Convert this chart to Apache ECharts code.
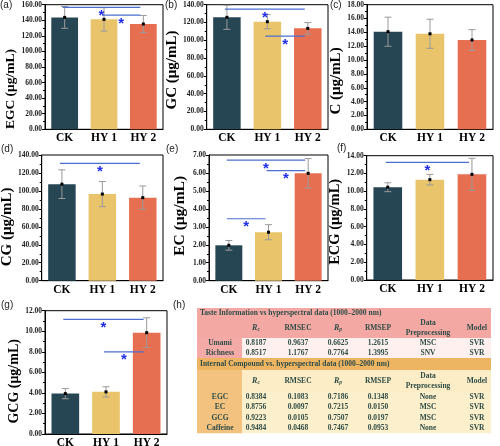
<!DOCTYPE html>
<html><head><meta charset="utf-8">
<script src="https://cdn.jsdelivr.net/npm/echarts@6/dist/echarts.min.js"></script>
<style>html,body{margin:0;padding:0;background:#fff}#c{width:500px;height:446px}</style>
</head><body><div id="c"></div>
<script>
// ---------- data ----------
const categories = ['CK', 'HY 1', 'HY 2'];
const barColors = ['#264653', '#E9C46A', '#E76F51'];

const egcMean = [143.7, 141.2, 135.2];  const egcErr = [14, 15, 11];
const gcMean  = [125.8, 120.9, 113.4];  const gcErr  = [13.5, 8, 6.5];
const cMean   = [14.1, 13.8, 12.9];     const cErr   = [2.1, 2.1, 1.5];
const cgMean  = [107.5, 96.5, 92.5];    const cgErr  = [16, 14, 13];
const ecMean  = [1.97, 2.70, 5.98];     const ecErr  = [0.27, 0.42, 0.82];
const ecgMean = [10.45, 11.30, 11.90];  const ecgErr = [0.5, 0.6, 1.8];
const gcgMean = [3.93, 4.10, 9.86];     const gcgErr = [0.5, 0.5, 1.45];

// significance brackets: [fromCategory, toCategory, yValue]
const egcSig = [[0, 2, 156.6], [1, 2, 146.5]];
const gcSig  = [[0, 2, 135.0], [1, 2, 104.8]];
const cSig   = [];
const cgSig  = [[0, 2, 130.7]];
const ecSig  = [[0, 2, 6.72], [1, 2, 6.13], [0, 1, 3.45]];
const ecgSig = [[0, 2, 13.25]];
const gcgSig = [[0, 2, 11.16], [1, 2, 8.0]];

// table
const tasteTitle = 'Taste Information vs hyperspectral data (1000–2000 nm)';
const compTitle  = 'Internal Compound vs. hyperspectral data (1000–2000 nm)';
const tableHeaders = ['{i|R}{s|c}', 'RMSEC', '{i|R}{s|p}', 'RMSEP', 'Data\nPreprocessing', 'Model'];
const tasteRows = [
  ['Umami',    '0.8187', '0.9637', '0.6625', '1.2615', 'MSC', 'SVR'],
  ['Richness', '0.8517', '1.1767', '0.7764', '1.3995', 'SNV', 'SVR']
];
const compRows = [
  ['EGC',      '0.8384', '0.1083', '0.7186', '0.1348', 'None', 'SVR'],
  ['EC',       '0.8756', '0.0097', '0.7215', '0.0150', 'MSC',  'SVR'],
  ['GCG',      '0.9223', '0.0105', '0.7507', '0.0197', 'MSC',  'SVR'],
  ['Caffeine', '0.9484', '0.0468', '0.7467', '0.0953', 'None', 'SVR']
];

// ---------- layout ----------
const SERIF = '"Liberation Serif","Times New Roman",serif';
const SANS = '"Liberation Sans",Arial,sans-serif';
const panels = [
  {name:'EGC (μg/mL)', mean:egcMean, err:egcErr, sig:egcSig, max:160, step:20, g:[45, 4.7, 118, 124.6], gap:23, fs:13.5, off:22, tag:'(a)', tp:[0, 5]},
  {name:'GC (μg/mL)',  mean:gcMean,  err:gcErr,  sig:gcSig,  max:140, step:20, g:[206.7, 4.7, 121.3, 124.6], gap:19, fs:15, off:3, tag:'(b)', tp:[165, 5]},
  {name:'C (μg/mL)',   mean:cMean,   err:cErr,   sig:cSig,   max:18,  step:2,  g:[367, 4.7, 126, 124.6], gap:16.5, fs:15, off:14, tag:'(c)', tp:[330, 5]},
  {name:'CG (μg/mL)',  mean:cgMean,  err:cgErr,  sig:cgSig,  max:140, step:20, g:[41.7, 155, 121.3, 125.7], gap:19, fs:15, off:9, tag:'(d)', tp:[1, 149]},
  {name:'EC (μg/mL)',  mean:ecMean,  err:ecErr,  sig:ecSig,  max:7,   step:1,  g:[209, 155, 119, 125.7], gap:21, fs:15.5, off:-2, tag:'(e)', tp:[166, 149]},
  {name:'ECG (μg/mL)', mean:ecgMean, err:ecgErr, sig:ecgSig, max:14,  step:2,  g:[366.7, 155.7, 126.3, 124.3], gap:17.5, fs:14.5, off:4, tag:'(f)', tp:[337, 148]},
  {name:'GCG (μg/mL)', mean:gcgMean, err:gcgErr, sig:gcgSig, max:12,  step:2,  g:[45, 310.7, 122, 123.3], gap:22, fs:14, off:9, tag:'(g)', tp:[1, 305]}
];

function errRender(params, api) {
  const x = api.value(0), m = api.value(1), e = api.value(2);
  const t = api.coord([x, m + e]), b = api.coord([x, m - e]), c = api.coord([x, m]);
  const cap = 3.5, st = {stroke:'#9a9a9a', lineWidth:1};
  return {type:'group', children:[
    {type:'line', shape:{x1:t[0], y1:t[1], x2:b[0], y2:b[1]}, style:st},
    {type:'line', shape:{x1:t[0]-cap, y1:t[1], x2:t[0]+cap, y2:t[1]}, style:st},
    {type:'line', shape:{x1:b[0]-cap, y1:b[1], x2:b[0]+cap, y2:b[1]}, style:st},
    {type:'rect', shape:{x:c[0]-1.5, y:c[1]-1.5, width:3, height:3}, style:{fill:'#000'}}
  ]};
}
function sigRender(params, api) {
  const a = api.coord([api.value(0), api.value(2)]);
  const b = api.coord([api.value(1), api.value(2)]);
  const x1 = a[0] - 2, x2 = b[0] - 3, y = a[1];
  return {type:'group', children:[
    {type:'line', shape:{x1:x1, y1:y, x2:x2, y2:y}, style:{stroke:'#4a6fd0', lineWidth:1.2}},
    {type:'text', style:{text:'*', x:(x1+x2)/2, y:y+1, align:'center', verticalAlign:'top',
      fontSize:15, fontWeight:'bold', fill:'#1f2ee6', fontFamily:SANS}}
  ]};
}

const option = {animation:false, grid:[], xAxis:[], yAxis:[], series:[], graphic:[]};
panels.forEach((p, i) => {
  option.grid.push({left:p.g[0], top:p.g[1], width:p.g[2], height:p.g[3], show:true,
    borderColor:'#000', borderWidth:1, backgroundColor:'transparent', containLabel:false, outerBoundsMode:'none'});
  option.xAxis.push({type:'category', gridIndex:i, data:categories,
    axisTick:{show:false}, axisLine:{lineStyle:{color:'#000', width:1}},
    axisLabel:{color:'#000', fontSize:11.5, fontWeight:'bold', fontFamily:SERIF, margin:3}});
  const pad = p.off >= 0 ? [0, 2 * p.off, 0, 0] : [0, 0, 0, -2 * p.off];
  option.yAxis.push({type:'value', gridIndex:i, min:0, max:p.max, interval:p.step,
    name:p.name, nameLocation:'middle', nameGap:p.gap,
    nameTextStyle:{color:'#000', fontSize:p.fs, fontWeight:'bold', fontFamily:SERIF, padding:pad},
    axisLine:{show:true, lineStyle:{color:'#000', width:1}},
    axisTick:{show:true, length:3, lineStyle:{color:'#000'}},
    minorTick:{show:true, splitNumber:2, length:2, lineStyle:{color:'#000'}},
    splitLine:{show:false},
    axisLabel:{formatter:v => v.toFixed(2), fontSize:7.5, fontWeight:'bold', fontFamily:SERIF, color:'#222', margin:3}});
  option.series.push({type:'bar', xAxisIndex:i, yAxisIndex:i, data:p.mean, barWidth:'68%',
    itemStyle:{color:q => barColors[q.dataIndex]}});
  option.series.push({type:'custom', xAxisIndex:i, yAxisIndex:i, renderItem:errRender, clip:false, z:3,
    data:p.mean.map((m, k) => [k, m, p.err[k]])});
  if (p.sig.length) option.series.push({type:'custom', xAxisIndex:i, yAxisIndex:i, renderItem:sigRender, clip:false, z:4,
    encode:{x:0, y:2}, data:p.sig});
  option.graphic.push({type:'text', left:p.tp[0], top:p.tp[1] - 5, style:{text:p.tag, fontSize:10, fontFamily:SANS, fill:'#222'}});
});

// ---------- table (h) ----------
const TX = 197, TW = 294, LC = 45;
const colX = [220, 256, 298, 338, 378, 428, 477];
const txtCol = '#2f4d47';
const cellFont = {fontSize:7.5, fontWeight:'bold', fontFamily:SERIF, fill:txtCol};
const rich = {i:{fontStyle:'italic', fontWeight:'bold', fontSize:8, fontFamily:SERIF, fill:txtCol},
              s:{fontStyle:'italic', fontWeight:'bold', fontSize:5.5, fontFamily:SERIF, fill:txtCol, padding:[4,0,0,0]}};
const G = option.graphic;
G.push({type:'text', left:173, top:300, style:{text:'(h)', fontSize:10, fontFamily:SANS, fill:'#222'}});
function rect(x, y, w, h, c) { G.push({type:'rect', shape:{x:x, y:y, width:w, height:h}, style:{fill:c}, z:0}); }
function txt(x, y, s, align, extra) {
  G.push({type:'text', x:x, y:y, z:2, style:Object.assign({text:s, align:align || 'center', verticalAlign:'middle', rich:rich, lineHeight:10}, cellFont, extra || {})});
}
function table(top, titleH, headH, rowH, title, rows, cTitle, cHeadLabel, cHead, cLabel, cCell) {
  rect(TX, top, TW, titleH, cTitle);
  rect(TX, top + titleH, LC, headH, cHeadLabel);
  rect(TX + LC, top + titleH, TW - LC, headH, cHead);
  rect(TX, top + titleH + headH, LC, rowH * rows.length, cLabel);
  rect(TX + LC, top + titleH + headH, TW - LC, rowH * rows.length, cCell);
  txt(TX + 3, top + titleH / 2, title, 'left');
  tableHeaders.forEach((h, k) => txt(colX[k + 1], top + titleH + headH / 2, h));
  rows.forEach((r, j) => r.forEach((v, k) => txt(colX[k], top + titleH + headH + rowH * (j + 0.5), v)));
}
table(308, 10, 20, 10, tasteTitle, tasteRows, '#f4a8a4', '#f4a8a4', '#f4a8a4', '#f4aaa7', '#fdf0ee');
table(358, 12, 22, 10.3, compTitle, compRows, '#edb462', '#f2c27e', '#fcedc6', '#f2c27e', '#fcefcb');

const chart = echarts.init(document.getElementById('c'), null, {renderer:'canvas'});
chart.setOption(option);
</script>
</body></html>
